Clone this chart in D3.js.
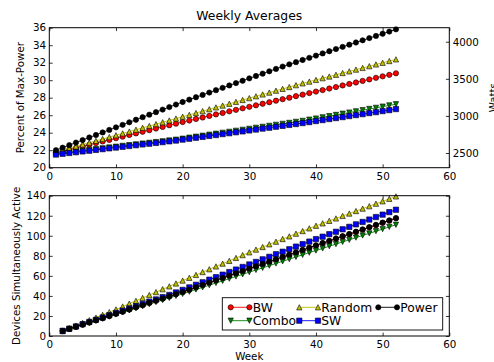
<!DOCTYPE html>
<html>
<head>
<meta charset="utf-8">
<script src="https://cdn.jsdelivr.net/npm/d3@7"></script>
<style>
  body { margin: 0; background: #fff; }
  text { font-family: "DejaVu Sans", sans-serif; }
</style>
</head>
<body>
<div id="chart"></div>
<script>
// ---- data ----
const seriesNames = ['BW', 'Combo', 'Random', 'SW', 'Power'];

// top panel: weeks 1..52, percent of max power
const topWeeks = d3.range(1, 53);
const topBW = [21.70, 21.89, 22.07, 22.26, 22.44, 22.63, 22.81, 23.00, 23.18, 23.37,
  23.55, 23.74, 23.92, 24.11, 24.29, 24.48, 24.66, 24.85, 25.03, 25.22,
  25.39, 25.57, 25.74, 25.92, 26.09, 26.26, 26.44, 26.61, 26.79, 26.96,
  27.13, 27.31, 27.48, 27.66, 27.83, 28.00, 28.18, 28.35, 28.53, 28.70,
  28.87, 29.05, 29.22, 29.40, 29.57, 29.74, 29.92, 30.09, 30.27, 30.44,
  30.61, 30.79];
const topCombo = [21.60, 21.69, 21.78, 21.87, 21.96, 22.04, 22.13, 22.22, 22.31, 22.40,
  22.49, 22.58, 22.67, 22.76, 22.84, 22.93, 23.02, 23.11, 23.20, 23.31,
  23.43, 23.54, 23.65, 23.77, 23.88, 23.99, 24.10, 24.22, 24.33, 24.44,
  24.56, 24.67, 24.78, 24.90, 25.01, 25.12, 25.24, 25.35, 25.49, 25.62,
  25.76, 25.89, 26.03, 26.17, 26.30, 26.44, 26.57, 26.71, 26.84, 26.98,
  27.12, 27.25];
const topRandom = [21.80, 22.01, 22.22, 22.44, 22.65, 22.86, 23.07, 23.28, 23.50, 23.71,
  23.92, 24.13, 24.34, 24.56, 24.77, 24.98, 25.19, 25.40, 25.62, 25.83,
  26.04, 26.25, 26.46, 26.68, 26.89, 27.10, 27.31, 27.52, 27.74, 27.95,
  28.16, 28.37, 28.58, 28.80, 29.01, 29.22, 29.43, 29.64, 29.84, 30.03,
  30.23, 30.42, 30.62, 30.82, 31.01, 31.21, 31.40, 31.60, 31.80, 31.99,
  32.19, 32.38];
const topSW = [21.50, 21.59, 21.68, 21.77, 21.86, 21.94, 22.03, 22.12, 22.21, 22.30,
  22.39, 22.48, 22.57, 22.66, 22.74, 22.83, 22.92, 23.01, 23.10, 23.21,
  23.31, 23.42, 23.52, 23.63, 23.73, 23.84, 23.94, 24.05, 24.15, 24.26,
  24.36, 24.47, 24.57, 24.68, 24.78, 24.89, 24.99, 25.10, 25.21, 25.33,
  25.44, 25.56, 25.67, 25.78, 25.90, 26.01, 26.12, 26.24, 26.35, 26.47,
  26.58, 26.70];
const topPower = [22.00, 22.29, 22.58, 22.87, 23.16, 23.45, 23.74, 24.03, 24.32, 24.61,
  24.90, 25.19, 25.48, 25.77, 26.06, 26.35, 26.64, 26.93, 27.22, 27.51,
  27.78, 28.05, 28.32, 28.59, 28.86, 29.13, 29.40, 29.67, 29.94, 30.21,
  30.48, 30.75, 31.02, 31.29, 31.56, 31.81, 32.06, 32.31, 32.56, 32.81,
  33.06, 33.31, 33.56, 33.81, 34.06, 34.31, 34.56, 34.81, 35.06, 35.31,
  35.56, 35.81];

// bottom panel: weeks 2..52, devices simultaneously active
const botWeeks = d3.range(2, 53);
const botBW = [5.0, 7.0, 9.1, 11.3, 13.4, 15.6, 17.7, 19.9, 22.1, 24.2,
  26.4, 28.6, 30.7, 32.9, 35.1, 37.2, 39.4, 41.6, 43.7, 46.0,
  48.4, 50.7, 53.0, 55.3, 57.7, 60.0, 62.3, 64.6, 67.0, 69.3,
  71.6, 73.9, 76.3, 78.6, 80.9, 83.2, 85.6, 87.9, 90.2, 92.5,
  94.7, 97.0, 99.3, 101.5, 103.8, 106.1, 108.4, 110.6, 112.9, 115.1, 117.4];
const botCombo = [5.0, 7.1, 9.1, 11.2, 13.2, 15.3, 17.4, 19.4, 21.5,
  23.6, 25.6, 27.7, 29.8, 31.8, 33.9, 35.9, 38.0, 40.0, 42.0,
  44.2, 46.4, 48.5, 50.7, 52.9, 55.0, 57.2, 59.4, 61.5, 63.7,
  65.9, 68.0, 70.2, 72.4, 74.5, 76.7, 78.9, 81.0, 83.2, 85.3,
  87.4, 89.6, 91.7, 93.9, 96.0, 98.2, 100.3, 102.4, 104.6, 106.7, 108.9, 111.0];
const botRandom = [5.0, 7.7, 10.4, 13.1, 15.8, 18.4, 21.1, 23.8, 26.5,
  29.4, 32.3, 35.1, 38.0, 40.9, 43.8, 46.7, 49.5, 52.4, 55.3,
  58.1, 60.9, 63.8, 66.6, 69.4, 72.2, 75.0, 77.9, 80.7, 83.5,
  86.2, 88.8, 91.5, 94.1, 96.8, 99.4, 102.1, 104.7, 107.4, 110.0,
  112.4, 114.9, 117.3, 119.8, 122.2, 124.7, 127.1, 129.5, 132.0, 134.4, 136.9, 139.3];
const botSW = [5.0, 7.2, 9.5, 11.8, 14.0, 16.2, 18.5, 20.8, 23.0,
  25.3, 27.5, 29.8, 32.0, 34.3, 36.5, 38.8, 41.0, 43.5, 46.0,
  48.5, 51.1, 53.6, 56.2, 58.7, 61.2, 63.8, 66.3, 68.9, 71.4,
  73.9, 76.5, 79.0, 81.6, 84.1, 86.6, 89.2, 91.7, 94.2, 96.7,
  99.1, 101.6, 104.0, 106.5, 108.9, 111.4, 113.8, 116.2, 118.7, 121.1, 123.6, 126.0];
const botPower = [5.0, 7.2, 9.3, 11.5, 13.7, 15.8, 18.0, 20.2, 22.4,
  24.5, 26.7, 28.9, 31.0, 33.2, 35.4, 37.5, 39.7, 41.9, 44.0,
  46.3, 48.7, 51.0, 53.3, 55.6, 58.0, 60.3, 62.6, 64.9, 67.3,
  69.6, 71.9, 74.2, 76.6, 78.9, 81.2, 83.5, 85.9, 88.2, 90.5,
  92.8, 95.0, 97.3, 99.6, 101.8, 104.1, 106.4, 108.7, 110.9, 113.2, 115.4, 117.7];

const xTicks = [0, 10, 20, 30, 40, 50, 60];
const pctTicks = [20, 22, 24, 26, 28, 30, 32, 34, 36];
const wattTicks = [2500, 3000, 3500, 4000];
const devTicks = [0, 20, 40, 60, 80, 100, 120, 140];

// ---- styles per series ----
const styles = {
  BW:     { color: '#ff0000', marker: 'circle' },
  Combo:  { color: '#008000', marker: 'down' },
  Random: { color: '#bfbf00', marker: 'up' },
  SW:     { color: '#0000ff', marker: 'square' },
  Power:  { color: '#000000', marker: 'circle' }
};
const topValues = { BW: topBW, Combo: topCombo, Random: topRandom, SW: topSW, Power: topPower };
const botValues = { BW: botBW, Combo: botCombo, Random: botRandom, SW: botSW, Power: botPower };

const width = 494, height = 362;
const svg = d3.select('#chart').append('svg')
  .attr('width', width).attr('height', height);
svg.append('rect').attr('width', width).attr('height', height).attr('fill', '#fff');

const left = 49.3, right = 449.3;
const top1 = 27.7, bot1 = 167.7;
const top2 = 195.7, bot2 = 336;

const x = d3.scaleLinear().domain([0, 60]).range([left, right]);
const yPct = d3.scaleLinear().domain([20, 36]).range([bot1, top1]);
const yWatt = d3.scaleLinear().domain([2302, 4189]).range([bot1, top1]);
const yDev = d3.scaleLinear().domain([0, 140]).range([bot2, top2]);

const ms = 5.3; // marker size in px
function markerPath(type) {
  const h = ms / 2;
  if (type === 'up') return `M0,${-h}L${h},${h}L${-h},${h}Z`;
  if (type === 'down') return `M0,${h}L${h},${-h}L${-h},${-h}Z`;
  if (type === 'square') return `M${-h},${-h}H${h}V${h}H${-h}Z`;
  return d3.symbol(d3.symbolCircle, Math.PI * h * h)();
}

function drawSeries(g, weeks, values, yScale) {
  seriesNames.forEach(name => {
    const st = styles[name];
    const pts = weeks.map((w, i) => [w, values[name][i]]);
    g.append('path')
      .attr('d', d3.line().x(d => x(d[0])).y(d => yScale(d[1]))(pts))
      .attr('fill', 'none')
      .attr('stroke', st.color)
      .attr('stroke-width', 0.9);
    g.selectAll(null).data(pts).enter().append('path')
      .attr('transform', d => `translate(${x(d[0])},${yScale(d[1])})`)
      .attr('d', markerPath(st.marker))
      .attr('fill', st.color)
      .attr('stroke', '#000')
      .attr('stroke-width', 0.6);
  });
}

function styleAxis(g) {
  g.select('.domain').remove();
  g.selectAll('.tick line').attr('stroke', '#000').attr('stroke-width', 0.8);
  g.selectAll('.tick text').attr('fill', '#000')
    .style('font-family', '"DejaVu Sans", sans-serif').style('font-size', '10.3px');
}

function frame(yTop, yBot, yScale, yTicks, rightScale, rightTicks) {
  // left axis
  svg.append('g').attr('transform', `translate(${left},0)`)
    .call(d3.axisLeft(yScale).tickValues(yTicks).tickSizeInner(-3.4).tickSizeOuter(0).tickPadding(3.2))
    .call(styleAxis);
  // right axis
  if (rightScale) {
    svg.append('g').attr('transform', `translate(${right},0)`)
      .call(d3.axisRight(rightScale).tickValues(rightTicks).tickFormat(d3.format('d'))
        .tickSizeInner(-3.4).tickSizeOuter(0).tickPadding(3.4))
      .call(styleAxis);
  } else {
    svg.append('g').attr('transform', `translate(${right},0)`)
      .call(d3.axisRight(yScale).tickValues(yTicks).tickSizeInner(-3.4).tickSizeOuter(0).tickFormat(''))
      .call(styleAxis);
  }
  // bottom axis
  svg.append('g').attr('transform', `translate(0,${yBot})`)
    .call(d3.axisBottom(x).tickValues(xTicks).tickSizeInner(-3.4).tickSizeOuter(0).tickPadding(4.8))
    .call(styleAxis);
  // top ticks
  svg.append('g').attr('transform', `translate(0,${yTop})`)
    .call(d3.axisTop(x).tickValues(xTicks).tickSizeInner(-3.4).tickSizeOuter(0).tickFormat(''))
    .call(styleAxis);
}

// ---- top panel ----
const gTop = svg.append('g');
drawSeries(gTop, topWeeks, topValues, yPct);
frame(top1, bot1, yPct, pctTicks, yWatt, wattTicks);
svg.append('rect').attr('x', left).attr('y', top1)
  .attr('width', right - left).attr('height', bot1 - top1)
  .attr('fill', 'none').attr('stroke', '#000').attr('stroke-width', 1);

// ---- bottom panel ----
const gBot = svg.append('g');
drawSeries(gBot, botWeeks, botValues, yDev);
frame(top2, bot2, yDev, devTicks, null, null);
svg.append('rect').attr('x', left).attr('y', top2)
  .attr('width', right - left).attr('height', bot2 - top2)
  .attr('fill', 'none').attr('stroke', '#000').attr('stroke-width', 1);

// ---- texts ----
svg.append('text').attr('x', (left + right) / 2).attr('y', 20)
  .attr('text-anchor', 'middle').style('font-size', '12.4px').text('Weekly Averages');
svg.append('text').attr('transform', `translate(24.3,${(top1 + bot1) / 2}) rotate(-90)`)
  .attr('text-anchor', 'middle').style('font-size', '10.3px').text('Percent of Max-Power');
svg.append('text').attr('transform', `translate(497,${(top1 + bot1) / 2}) rotate(-90)`)
  .attr('text-anchor', 'middle').style('font-size', '10.3px').text('Watts');
svg.append('text').attr('transform', `translate(19.6,${(top2 + bot2) / 2}) rotate(-90)`)
  .attr('text-anchor', 'middle').style('font-size', '10.3px').text('Devices Simultaneously Active');
svg.append('text').attr('x', (left + right) / 2).attr('y', 360)
  .attr('text-anchor', 'middle').style('font-size', '10.3px').text('Week');

// ---- legend ----
const legend = svg.append('g');
legend.append('rect').attr('x', 222.3).attr('y', 297.7).attr('width', 220.4).attr('height', 32.3)
  .attr('fill', '#fff').attr('stroke', '#000').attr('stroke-width', 0.9);
const colX = [230.7, 299.3, 378.3];
const rowY = [307.3, 320.7];
seriesNames.forEach((name, i) => {
  const st = styles[name];
  const cx = colX[Math.floor(i / 2)], cy = rowY[i % 2];
  legend.append('line').attr('x1', cx).attr('x2', cx + 18.7).attr('y1', cy).attr('y2', cy)
    .attr('stroke', st.color).attr('stroke-width', 0.9);
  [cx, cx + 18.7].forEach(mx => {
    legend.append('path').attr('transform', `translate(${mx},${cy})`)
      .attr('d', markerPath(st.marker))
      .attr('fill', st.color).attr('stroke', '#000').attr('stroke-width', 0.6);
  });
  legend.append('text').attr('x', cx + 22).attr('y', cy).attr('dy', '0.36em')
    .style('font-size', '12.3px').text(name);
});
</script>
</body>
</html>
